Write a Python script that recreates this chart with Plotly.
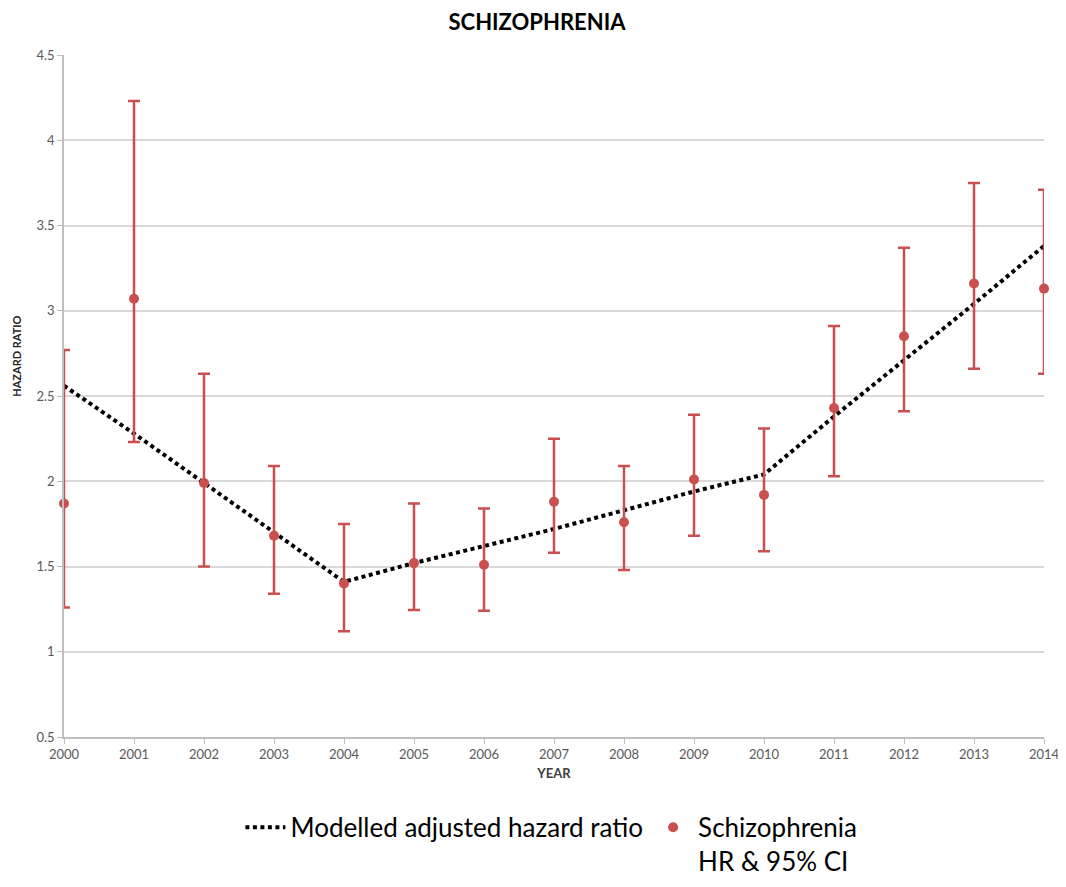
import plotly.graph_objects as go

years = list(range(2000, 2015))
hr = [1.87, 3.07, 1.99, 1.68, 1.40, 1.52, 1.51, 1.88, 1.76, 2.01, 1.92, 2.43, 2.85, 3.16, 3.13]
ci_upper = [2.77, 4.23, 2.63, 2.09, 1.75, 1.87, 1.84, 2.25, 2.09, 2.39, 2.31, 2.91, 3.37, 3.75, 3.71]
ci_lower = [1.26, 2.23, 1.50, 1.34, 1.12, 1.245, 1.24, 1.58, 1.48, 1.68, 1.59, 2.03, 2.41, 2.66, 2.63]
modelled = [2.56, 2.28, 1.99, 1.70, 1.41, 1.52, 1.62, 1.72, 1.83, 1.94, 2.04, 2.38, 2.71, 3.04, 3.38]

red = "#C9504E"
font_family = "Lato, 'Open Sans', sans-serif"

# page body has an 8px margin, so the figure is a little smaller than the window
W, H = 1058, 871

fig = go.Figure()

fig.add_trace(go.Scatter(
    x=years, y=modelled,
    mode="lines",
    name="Modelled adjusted hazard ratio",
    line=dict(color="black", width=4, dash="4px,3.5px"),
    cliponaxis=False,
))

fig.add_trace(go.Scatter(
    x=years, y=hr,
    mode="markers",
    name="Schizophrenia<br>HR & 95% CI",
    marker=dict(color=red, size=10),
    error_y=dict(
        type="data", symmetric=False,
        array=[u - v for u, v in zip(ci_upper, hr)],
        arrayminus=[v - l for v, l in zip(hr, ci_lower)],
        color=red, thickness=2.5, width=6,
    ),
    cliponaxis=False,
))

fig.update_layout(
    width=W, height=H,
    margin=dict(l=56, r=22, t=47, b=142, autoexpand=False),
    paper_bgcolor="white", plot_bgcolor="white",
    font=dict(family=font_family, color="#595959"),
    title=dict(
        text="<b>SCHIZOPHRENIA</b>",
        x=0.5, xref="container", xanchor="center",
        y=1 - 14 / H, yanchor="middle",
        font=dict(size=22, color="black"),
    ),
    showlegend=True,
    legend=dict(
        orientation="h",
        x=0.18, xanchor="left",
        y=-0.098, yanchor="top",
        font=dict(size=26, color="black"),
        valign="top",
        itemwidth=40,
    ),
)

fig.update_xaxes(
    range=[2000, 2014], dtick=1, tick0=2000,
    showgrid=False, zeroline=False,
    showline=True, linecolor="#BFBFBF", linewidth=1.5,
    ticks="outside", ticklen=5, tickcolor="#BFBFBF",
    tickfont=dict(size=13, color="#595959"),
    ticklabeloverflow="allow",
    title=dict(text="<b>YEAR</b>", font=dict(size=13, color="#404040"), standoff=8),
)

fig.update_yaxes(
    range=[0.5, 4.5], dtick=0.5, tick0=0.5,
    showgrid=True, gridcolor="#D9D9D9", gridwidth=1.5,
    zeroline=False,
    showline=True, linecolor="#BFBFBF", linewidth=1.5,
    ticks="outside", ticklen=5, tickcolor="#BFBFBF",
    tickfont=dict(size=13, color="#595959"),
)

fig.add_annotation(
    text="<b>HAZARD RATIO</b>",
    xref="paper", x=0, xanchor="center", xshift=-47,
    yref="y", y=2.73, yanchor="middle",
    textangle=-90, showarrow=False,
    font=dict(size=11, color="#262626"),
)

fig.write_html("out.html")
